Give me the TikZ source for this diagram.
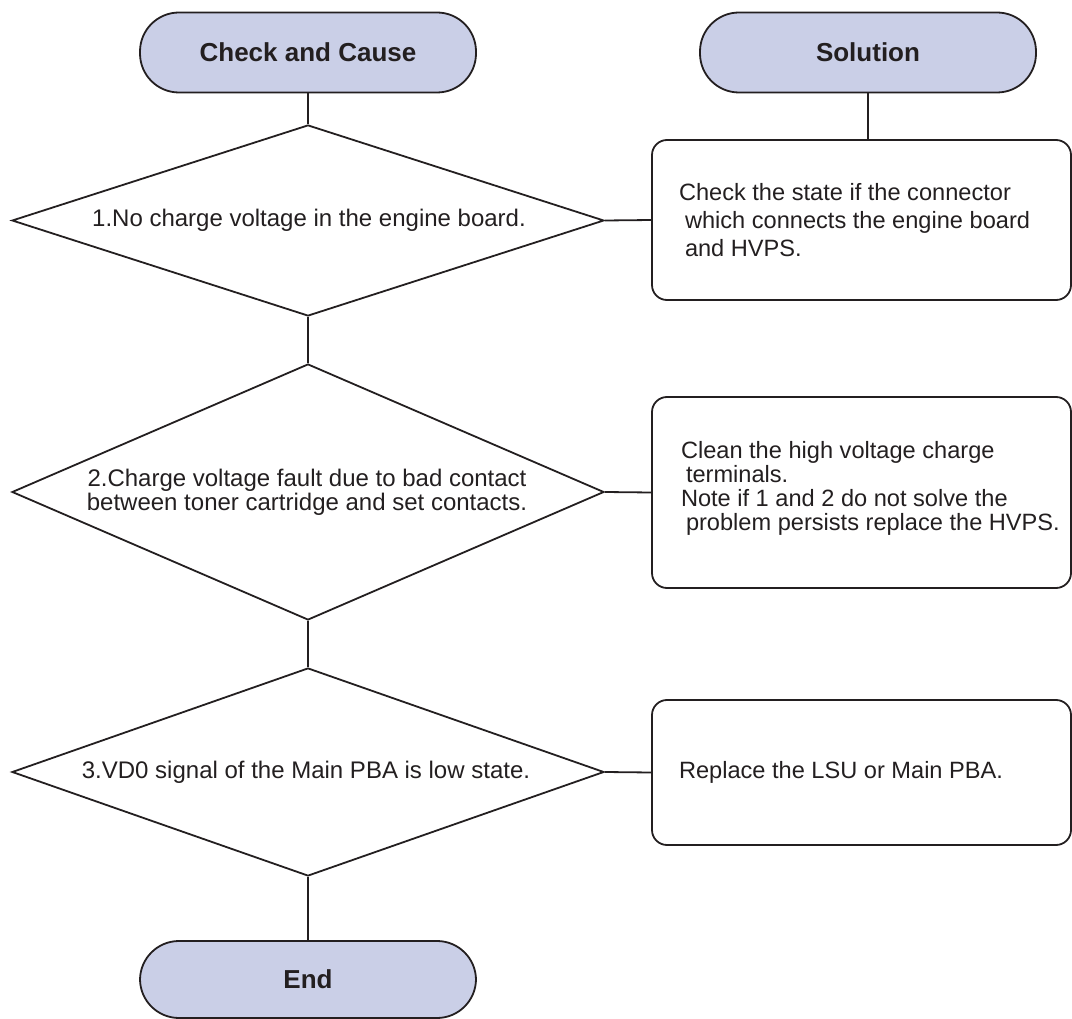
\documentclass[tikz,border=0pt]{standalone}
\usepackage{fontspec}
\setmainfont{Liberation Sans}
\usetikzlibrary{shapes.geometric}
\definecolor{ink}{RGB}{35,31,32}
\definecolor{termfill}{RGB}{202,207,231}
\begin{document}
\begin{tikzpicture}[x=1pt,y=-1pt,
  line width=1.8pt, draw=ink,
  terminal/.style={draw=ink, fill=termfill, rounded corners=39pt,
    minimum width=336pt, minimum height=80pt, inner sep=0pt,
    font=\fontsize{26}{30}\selectfont\bfseries, text=ink},
  decision/.style={draw=ink, shape=diamond, aspect=3.1, inner sep=0pt,
    minimum width=592pt},
  solbox/.style={draw=ink, rounded corners=15pt, minimum width=419pt,
    inner sep=0pt},
  body/.style={font=\fontsize{23.6}{24}\selectfont, text=ink, inner sep=0pt,
    align=left},
  cause/.style={font=\fontsize{24}{24}\selectfont, text=ink, inner sep=0pt,
    align=center},
  wire/.style={draw=ink, line width=1.8pt}]
\useasboundingbox (0,0) rectangle (1072,1019);

% column headers
\node[terminal] (cc)  at (308,52.5) {Check and Cause};
\node[terminal] (sol) at (868,52.5) {Solution};

% checks
\node[decision, minimum height=191pt] (d1) at (308,220.5) {};
\node[decision, minimum height=256pt] (d2) at (308,492) {};
\node[decision, minimum height=208pt] (d3) at (308,772) {};

\node[cause] (t1) at (309,220) {1.No charge voltage in the engine board.};
\node[cause] (t2) at (307,492) {2.Charge voltage fault due to bad contact\\between toner cartridge and set contacts.};
\node[cause] (t3) at (306,772) {3.VD0 signal of the Main PBA is low state.};

% solutions
\node[solbox, minimum height=160pt] (b1) at (861.5,220) {};
\node[solbox, minimum height=191pt] (b2) at (861.5,492.5) {};
\node[solbox, minimum height=145pt] (b3) at (861.5,772.5) {};

\node[body, anchor=west, font=\fontsize{23.6}{28}\selectfont] (s1) at ([xshift=27pt]b1.west)
  {Check the state if the connector\\\hspace*{6pt}which connects the engine board\\\hspace*{6pt}and HVPS.};
\node[body, anchor=west] (s2) at ([xshift=29pt,yshift=4pt]b2.west)
  {Clean the high voltage charge\\\hspace*{5pt}terminals.\\Note if 1 and 2 do not solve the\\\hspace*{5pt}problem persists replace the HVPS.};
\node[body, anchor=west] (s3) at ([xshift=27pt]b3.west) {Replace the LSU or Main PBA.};

% end
\node[terminal, minimum height=77pt] (end) at (308,979.5) {End};

% connectors
\draw[wire] (cc.south) -- (d1.north);
\draw[wire] (d1.south) -- (d2.north);
\draw[wire] (d2.south) -- (d3.north);
\draw[wire] (d3.south) -- (end.north);
\draw[wire] (sol.south) -- (sol.south |- b1.north);
\draw[wire] (d1.east) -- (b1.west);
\draw[wire] (d2.east) -- (b2.west);
\draw[wire] (d3.east) -- (b3.west);
\end{tikzpicture}
\end{document}
